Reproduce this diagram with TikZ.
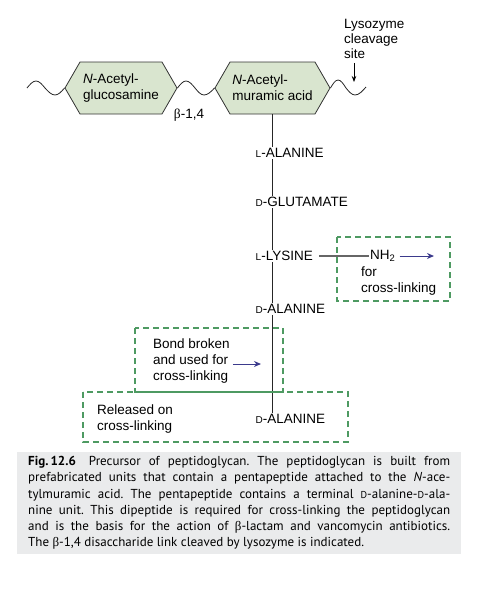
\documentclass[tikz,border=0pt]{standalone}
\usepackage{fontspec}
\setmainfont{Liberation Sans}
\newfontfamily\capfont{PT Sans}
\newfontfamily\grk{Liberation Serif}
\usetikzlibrary{positioning}
\usetikzlibrary{shapes.symbols}
\usetikzlibrary{arrows.meta}

\definecolor{sugargreen}{HTML}{D9E5CF}
\definecolor{boxgreen}{HTML}{4E9A62}
\definecolor{arrowblue}{HTML}{3B3A8C}
\definecolor{capgray}{HTML}{EAEBEC}

\newcommand{\lsc}[1]{{\fontsize{10}{12}\selectfont #1}}
\newcommand{\capsc}[1]{{\fontsize{10}{11}\selectfont #1}}
\newlength{\capw}\setlength{\capw}{422pt}

\tikzset{
 sugar/.style={signal, signal to=west and east, signal pointer angle=120,
   draw=black!80, fill=sugargreen, line width=0.8pt, minimum width=112pt,
   minimum height=52pt, inner sep=0pt, align=left},
 wave/.style={draw=black!85, line width=0.8pt},
 amino/.style={anchor=west, inner sep=1.5pt},
 chain/.style={draw=black!85, line width=0.8pt},
 dashbox/.style={draw=boxgreen, line width=1.3pt, dash pattern=on 6pt off 4pt},
 blue arrow/.style={arrowblue, line width=1pt, -{Stealth[length=7pt,width=6pt]}},
 note/.style={anchor=north west, align=left, inner sep=0pt},
}

\begin{document}
\begin{tikzpicture}[x=1pt,y=1pt,font=\fontsize{13.5}{16}\selectfont]
 \useasboundingbox (0,0) rectangle (490,-590);

 % disaccharide
 \node[sugar] (nag) at (121,-88) {\textit{N}-Acetyl-\\glucosamine};
 \node[sugar, minimum width=115pt] (nam) at (272.5,-88) {\textit{N}-Acetyl-\\muramic acid};
 \coordinate (wl) at (27,-88);
 \coordinate (wr) at (366,-87);
 \draw[wave] (wl) sin (36,-81) cos (45,-88) sin (55,-95) cos (nag.west);
 \draw[wave] (nag.east) sin (186,-81) cos (195,-88) sin (204,-95) cos (nam.west);
 \draw[wave] (nam.east) sin (338,-80) cos (346,-88) sin (355,-95) cos (wr);
 \node (blink) at (189,-115) {{\grk β}-1,4};

 % lysozyme
 \node[note, font=\fontsize{13.5}{15}\selectfont] (lyso) at (344,-19) {Lysozyme\\cleavage\\site};
 \coordinate (cut) at (354,-82);
 \draw[line width=0.8pt, -{Stealth[length=6pt,width=4.5pt]}, shorten <=4pt] (lyso.south -| cut) -- (cut);

 % pentapeptide
 \node[amino] (lala) at (254,-153) {\lsc{L}-ALANINE};
 \node[amino] (dglu) at (254,-202) {\lsc{D}-GLUTAMATE};
 \node[amino] (llys) at (254,-256) {\lsc{L}-LYSINE};
 \node[amino] (dala) at (254,-309) {\lsc{D}-ALANINE};
 \node[amino] (dalb) at (254,-419) {\lsc{D}-ALANINE};
 \draw[chain] (nam.south) -- (nam.south |- lala.north);
 \draw[chain] (lala.south -| nam.south) -- (dglu.north -| nam.south);
 \draw[chain] (dglu.south -| nam.south) -- (llys.north -| nam.south);
 \draw[chain] (llys.south -| nam.south) -- (dala.north -| nam.south);
 \draw[chain] (dala.south -| nam.south) -- (dalb.north -| nam.south);

 % side chain
 \node[anchor=west, inner sep=1pt] (nh) at (369,-256) {NH\textsubscript{2}};
 \coordinate (nhend) at (434,-256);
 \draw[black!60, line width=1.2pt, shorten <=5pt] (llys.east) -- (nh.west);
 \draw[blue arrow, shorten <=3pt] (nh.east) -- (nhend);
 \node[note] (forx) at (361,-267) {for\\cross-linking};
 \draw[dashbox] (337,-237) rectangle (450,-301);

 % terminal D-alanine
 \draw[dashbox] (135,-328) rectangle (283,-392);
 \node[note] (bond) at (153,-339) {Bond broken\\and used for\\cross-linking};
 \coordinate (bondend) at (261,-364);
 \draw[blue arrow, shorten <=3pt] (bond.east |- bondend) -- (bondend);
 \draw[dashbox] (83,-392) rectangle (348,-442);
 \node[note] (rel) at (97,-405) {Released on\\cross-linking};

 % caption
 \fill[capgray] (17,-452) rectangle (461,-554);
 \node[note, font=\capfont\fontsize{13}{16.3}\selectfont\frenchspacing] (cap) at (28,-456) {%
  \makebox[\capw][s]{\mbox{\textbf{Fig.\,12.6}}\quad Precursor of peptidoglycan. The peptidoglycan is built from}\\
  \makebox[\capw][s]{prefabricated units that contain a pentapeptide attached to the \textit{N}-ace-}\\
  \makebox[\capw][s]{tylmuramic acid. The pentapeptide contains a terminal \capsc{D}-alanine-\capsc{D}-ala-}\\
  \makebox[\capw][s]{nine unit. This dipeptide is required for cross-linking the peptidoglycan}\\
  \makebox[\capw][s]{and is the basis for the action of {\grk β}-lactam and vancomycin antibiotics.}\\
  The {\grk β}-1,4 disaccharide link cleaved by lysozyme is indicated.};
\end{tikzpicture}
\end{document}
